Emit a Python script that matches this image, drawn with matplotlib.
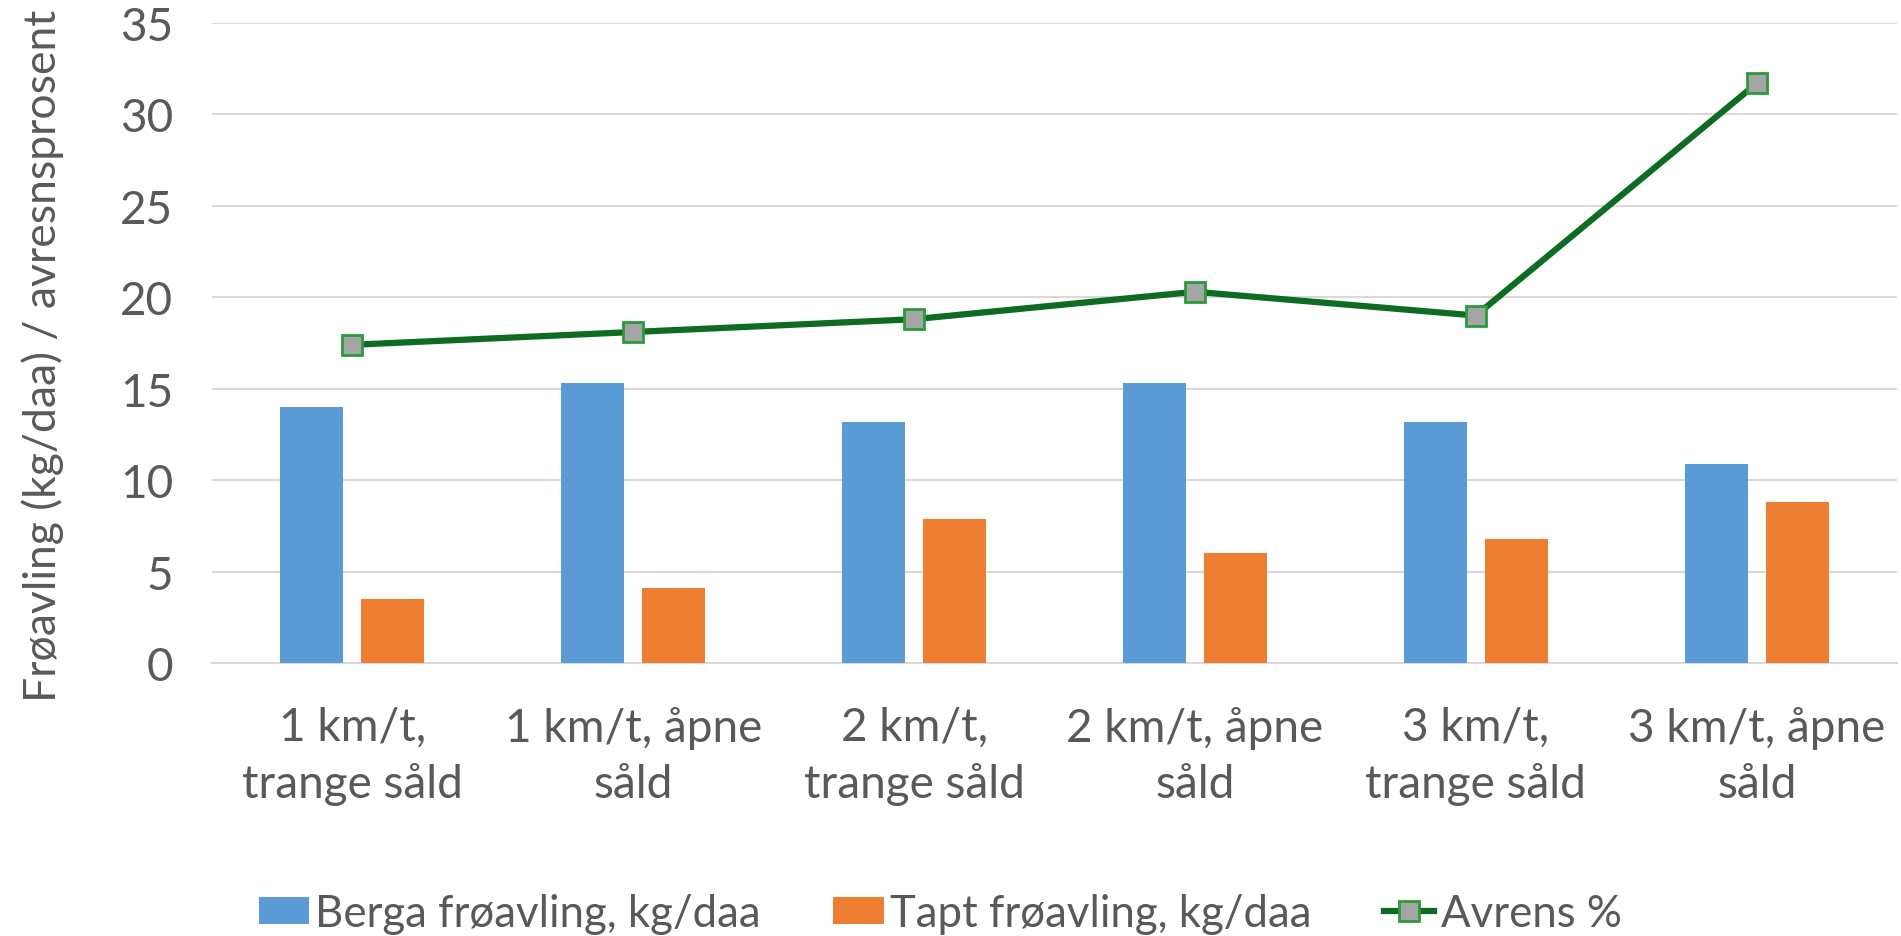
import numpy as np
import matplotlib.pyplot as plt

# data
categories = ["1 km/t,\ntrange såld", "1 km/t, åpne\nsåld", "2 km/t,\ntrange såld",
              "2 km/t, åpne\nsåld", "3 km/t,\ntrange såld", "3 km/t, åpne\nsåld"]
berga = [14.0, 15.3, 13.2, 15.3, 13.2, 10.9]
tapt = [3.5, 4.1, 7.9, 6.0, 6.8, 8.8]
avrens = [17.4, 18.1, 18.8, 20.3, 19.0, 31.7]

plt.rcParams['font.family'] = ['Lato', 'DejaVu Sans']
text_col = '#595959'

fig = plt.figure(figsize=(19.01, 9.37), dpi=100)
ax = fig.add_axes([0.1115, 0.2914, 0.8865, 0.683])

x = np.arange(len(categories))
w = 0.224
off = 0.144
b1 = ax.bar(x - off, berga, w, color='#5B9BD5', label='Berga frøavling, kg/daa', zorder=3)
b2 = ax.bar(x + off, tapt, w, color='#ED7D31', label='Tapt frøavling, kg/daa', zorder=3)
ln, = ax.plot(x, avrens, color='#0E6B22', lw=4.5, marker='s', markersize=14,
              markerfacecolor='#A5A5A5', markeredgecolor='#2A9B3A', markeredgewidth=2,
              label='Avrens %', zorder=4)

ax.set_xlim(-0.5, 5.5)
ax.set_ylim(0, 35)
ax.set_yticks(range(0, 36, 5))
ax.set_xticks(x)
ax.set_xticklabels(categories, linespacing=1.4)
ax.yaxis.grid(True, color='#D9D9D9', lw=1.5, zorder=0)
for s in ['top', 'right', 'left']:
    ax.spines[s].set_visible(False)
ax.spines['bottom'].set_color('#D9D9D9')
ax.spines['bottom'].set_linewidth(1.5)
ax.tick_params(length=0, labelsize=33, colors=text_col)
ax.tick_params(axis='x', pad=31)
ax.tick_params(axis='y', pad=28)
ax.set_ylabel('Frøavling (kg/daa) / avresnsprosent', fontsize=32, color=text_col)
ax.yaxis.set_label_coords(-0.088, 0.482)

fig.legend([b1, b2, ln], [b1.get_label(), b2.get_label(), ln.get_label()],
           loc='center', bbox_to_anchor=(0.4945, 0.024), ncol=3, frameon=False,
           fontsize=31.5, labelcolor=text_col, handlelength=1.15, handleheight=0.6,
           handletextpad=0.15, columnspacing=1.65)

fig.savefig('out.png', dpi=100)
